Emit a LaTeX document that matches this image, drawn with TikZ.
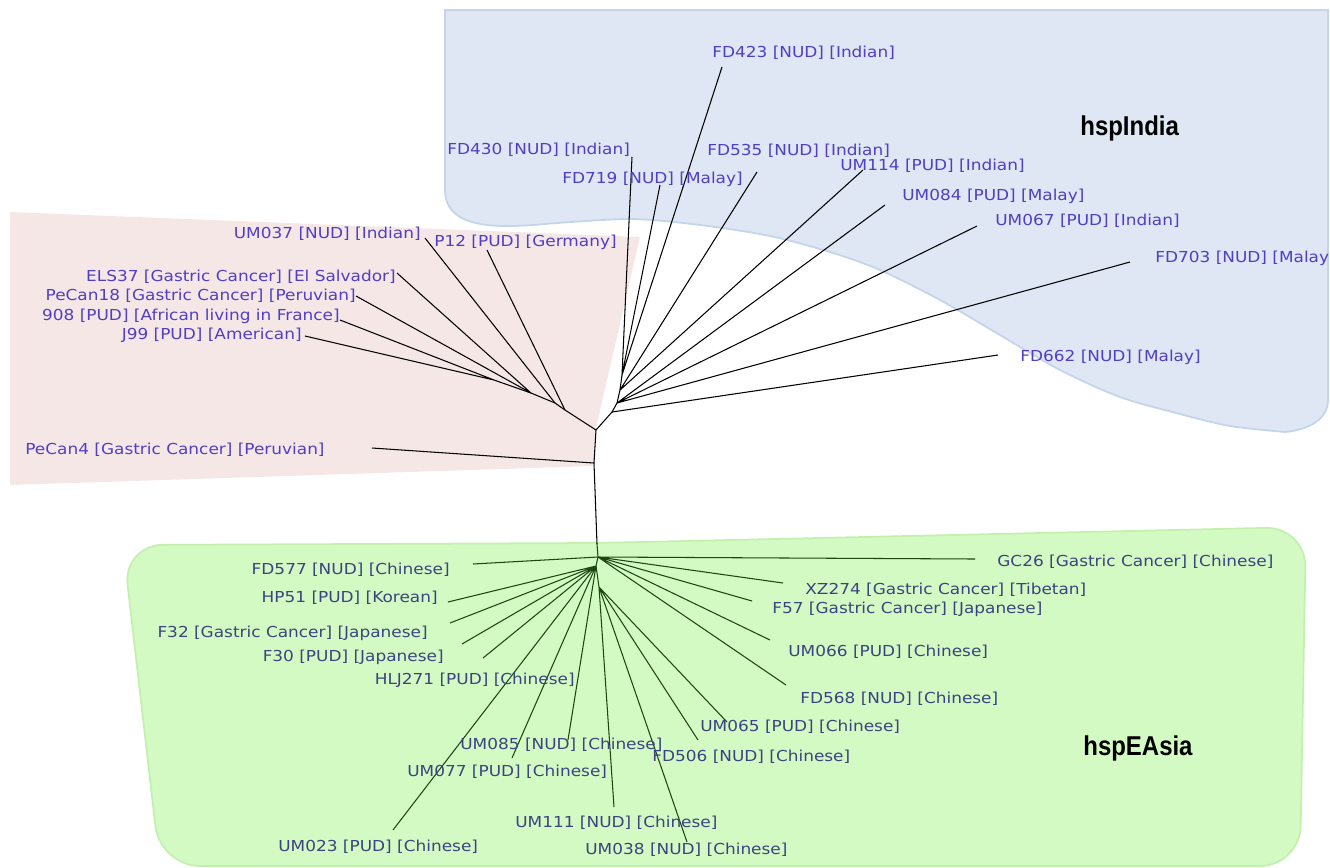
\documentclass[tikz,border=0pt]{standalone}
\usepackage{fontspec}
\newfontfamily\labfont[FakeStretch=1.12]{DejaVu Sans}
\newfontfamily\grpfont[FakeStretch=0.88]{Liberation Sans}
\definecolor{indiafill}{RGB}{222,231,243}
\definecolor{indiaedge}{RGB}{196,213,235}
\definecolor{pinkfill}{RGB}{246,231,231}
\definecolor{greenfill}{RGB}{211,250,194}
\definecolor{greenedge}{RGB}{196,240,175}
\definecolor{labblue}{RGB}{82,62,196}
\definecolor{labnavy}{RGB}{58,68,128}
\definecolor{treegreen}{RGB}{28,70,18}
\begin{document}
\begin{tikzpicture}[x=0.02cm,y=-0.02cm,
    leaf/.style={font=\labfont\fontsize{8.6}{10}\selectfont,text=labblue,inner sep=0pt},
    leafg/.style={leaf,text=labnavy},
    branch/.style={line width=0.6pt,black},
    branchg/.style={line width=0.6pt,treegreen},
    grp/.style={font=\grpfont\bfseries\fontsize{15.5}{17}\selectfont,inner sep=0pt}]
    \useasboundingbox (0,0) rectangle (1330,867);
    \filldraw[fill=indiafill,draw=indiaedge,line width=1pt] (445,10) -- (1328,10) -- (1328,400) to[out=-90,in=5] (1285,432) -- plot[smooth] coordinates {(1285,432) (1230,426) (1180,414) (1120,397) (1060,370) (1000,335) (940,300) (880,270) (830,252) (770,236) (700,225) (630,219) (545,224)} to[out=185,in=-90] (445,190) -- cycle;
    \fill[pinkfill] (10,212) -- (640,237) -- (596,428) -- (594,466) -- (10,485) -- cycle;
    \filldraw[fill=greenfill,draw=greenedge,line width=1pt,rounded corners=0.8cm] (597,543) -- (1306,527) -- (1300,866) -- (160,866) -- (123,545) -- cycle;

    \coordinate (rt) at (596,430);
    \coordinate (pj) at (594,463);
    \coordinate (tb) at (597,544);
    \coordinate (e0) at (598,557);
    \coordinate (e1) at (596,566);
    \coordinate (e2) at (599,587);
    \coordinate (a1) at (565,410);
    \coordinate (a2) at (555,403);
    \coordinate (a3) at (531,393);
    \coordinate (a4) at (494,380);
    \coordinate (i0) at (612,412);
    \coordinate (i1) at (617,403);
    \coordinate (i2) at (620,390);
    \coordinate (i3) at (622,375);

    \coordinate (FD423-e) at (722,67);
    \coordinate (FD430-e) at (632,157);
    \coordinate (FD719-e) at (660,185);
    \coordinate (FD535-e) at (757,172);
    \coordinate (UM114-e) at (863,170);
    \coordinate (UM084-e) at (885,205);
    \coordinate (UM067-e) at (977,226);
    \coordinate (FD703-e) at (1130,262);
    \coordinate (FD662-e) at (998,355);
    \coordinate (UM037-e) at (425,238);
    \coordinate (P12-e) at (487,250);
    \coordinate (ELS37-e) at (397,273);
    \coordinate (PeCan18-e) at (356,296);
    \coordinate (908-e) at (340,320);
    \coordinate (J99-e) at (305,336);
    \coordinate (PeCan4-e) at (372,448);
    \coordinate (GC26-e) at (975,559);
    \coordinate (XZ274-e) at (783,583);
    \coordinate (F57-e) at (752,601);
    \coordinate (UM066-e) at (770,640);
    \coordinate (FD568-e) at (786,685);
    \coordinate (FD577-e) at (473,564);
    \coordinate (HP51-e) at (448,602);
    \coordinate (F32-e) at (450,623);
    \coordinate (F30-e) at (462,644);
    \coordinate (HLJ271-e) at (483,658);
    \coordinate (UM023-e) at (393,830);
    \coordinate (UM077-e) at (512,758);
    \coordinate (UM085-e) at (568,740);
    \coordinate (UM111-e) at (614,807);
    \coordinate (UM038-e) at (687,842);
    \coordinate (FD506-e) at (698,740);
    \coordinate (UM065-e) at (727,722);

    \draw[branch] (tb) -- (pj) -- (rt) -- (a1) -- (a2) -- (a3) -- (a4);
    \draw[branch] (rt) -- (i0) -- (i1) -- (i2) -- (i3);
    \draw[branch] (pj) -- (PeCan4-e);
    \draw[branch] (a1) -- (P12-e) (a2) -- (UM037-e) (a3) -- (ELS37-e) (a3) -- (PeCan18-e) (a4) -- (908-e) (a4) -- (J99-e);
    \draw[branch] (i0) -- (FD662-e) (i1) -- (FD703-e) (i1) -- (UM067-e) (i1) -- (UM084-e) (i2) -- (UM114-e) (i2) -- (FD535-e) (i3) -- (FD423-e) (i3) -- (FD719-e) (i3) -- (FD430-e);
    \draw[branchg] (tb) -- (e0) -- (e1) -- (e2);
    \draw[branchg] (e0) -- (GC26-e) (e0) -- (XZ274-e) (e0) -- (F57-e) (e0) -- (UM066-e) (e0) -- (FD568-e) (e0) -- (FD577-e);
    \draw[branchg] (e1) -- (HP51-e) (e1) -- (F32-e) (e1) -- (F30-e) (e1) -- (HLJ271-e) (e1) -- (UM023-e) (e1) -- (UM077-e) (e1) -- (UM085-e);
    \draw[branchg] (e2) -- (UM111-e) (e2) -- (UM038-e) (e2) -- (FD506-e) (e2) -- (UM065-e);

    \node[leaf,anchor=west] (FD423) at (712,53) {FD423 [NUD] [Indian]};
    \node[leaf,anchor=west] (FD430) at (447,150) {FD430 [NUD] [Indian]};
    \node[leaf,anchor=west] (FD535) at (707,151) {FD535 [NUD] [Indian]};
    \node[leaf,anchor=west] (FD719) at (562,179) {FD719 [NUD] [Malay]};
    \node[leaf,anchor=west] (UM114) at (840,166) {UM114 [PUD] [Indian]};
    \node[leaf,anchor=west] (UM084) at (902,196) {UM084 [PUD] [Malay]};
    \node[leaf,anchor=west] (UM067) at (995,221) {UM067 [PUD] [Indian]};
    \node[leaf,anchor=west] (FD703) at (1155,258) {FD703 [NUD] [Malay]};
    \node[leaf,anchor=west] (FD662) at (1020,357) {FD662 [NUD] [Malay]};
    \node[grp,anchor=west] (india) at (1080,128) {hspIndia};

    \node[leaf,anchor=east] (UM037) at (421,234) {UM037 [NUD] [Indian]};
    \node[leaf,anchor=west] (P12) at (434,242) {P12 [PUD] [Germany]};
    \node[leaf,anchor=east] (ELS37) at (396,277) {ELS37 [Gastric Cancer] [El Salvador]};
    \node[leaf,anchor=east] (PeCan18) at (356,296) {PeCan18 [Gastric Cancer] [Peruvian]};
    \node[leaf,anchor=east] (908) at (340,316) {908 [PUD] [African living in France]};
    \node[leaf,anchor=east] (J99) at (302,335) {J99 [PUD] [American]};
    \node[leaf,anchor=west] (PeCan4) at (25,450) {PeCan4 [Gastric Cancer] [Peruvian]};

    \node[leafg,anchor=east] (FD577) at (450,570) {FD577 [NUD] [Chinese]};
    \node[leafg,anchor=east] (HP51) at (438,598) {HP51 [PUD] [Korean]};
    \node[leafg,anchor=east] (F32) at (428,633) {F32 [Gastric Cancer] [Japanese]};
    \node[leafg,anchor=east] (F30) at (444,657) {F30 [PUD] [Japanese]};
    \node[leafg,anchor=east] (HLJ271) at (575,680) {HLJ271 [PUD] [Chinese]};
    \node[leafg,anchor=west] (UM085) at (460,745) {UM085 [NUD] [Chinese]};
    \node[leafg,anchor=west] (UM077) at (407,772) {UM077 [PUD] [Chinese]};
    \node[leafg,anchor=west] (UM023) at (278,847) {UM023 [PUD] [Chinese]};
    \node[leafg,anchor=west] (UM111) at (515,823) {UM111 [NUD] [Chinese]};
    \node[leafg,anchor=west] (UM038) at (585,850) {UM038 [NUD] [Chinese]};
    \node[leafg,anchor=west] (FD506) at (652,757) {FD506 [NUD] [Chinese]};
    \node[leafg,anchor=west] (UM065) at (700,727) {UM065 [PUD] [Chinese]};
    \node[leafg,anchor=west] (FD568) at (800,699) {FD568 [NUD] [Chinese]};
    \node[leafg,anchor=west] (UM066) at (788,652) {UM066 [PUD] [Chinese]};
    \node[leafg,anchor=west] (F57) at (772,609) {F57 [Gastric Cancer] [Japanese]};
    \node[leafg,anchor=west] (XZ274) at (805,590) {XZ274 [Gastric Cancer] [Tibetan]};
    \node[leafg,anchor=west] (GC26) at (997,562) {GC26 [Gastric Cancer] [Chinese]};
    \node[grp,anchor=west] (easia) at (1083,748) {hspEAsia};
\end{tikzpicture}
\end{document}
